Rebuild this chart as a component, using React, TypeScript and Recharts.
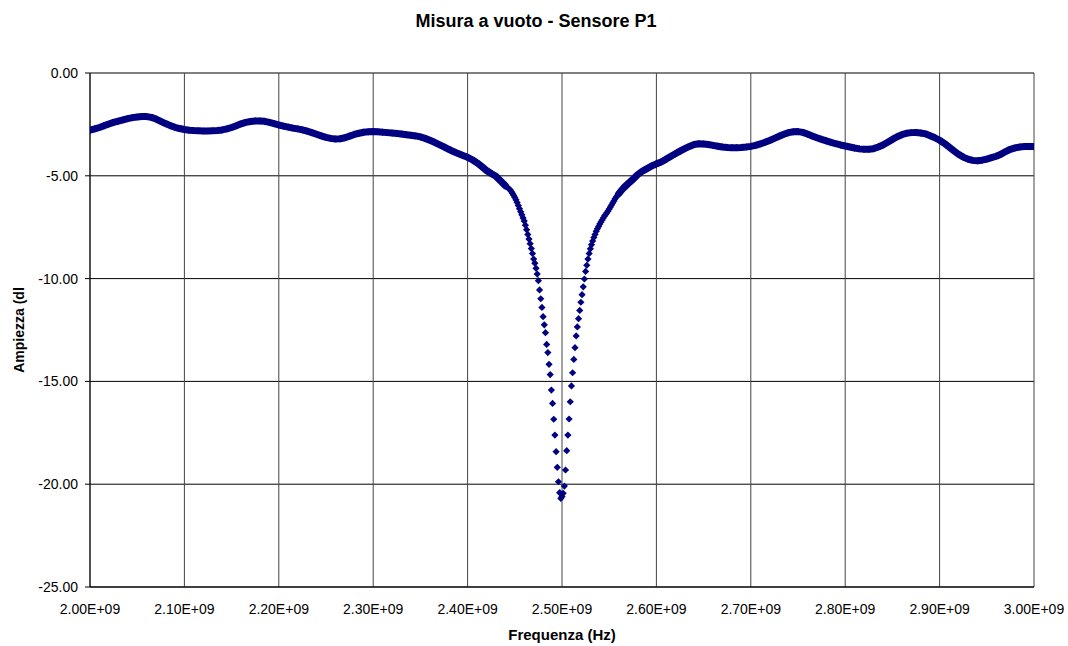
import React from 'react';
import { ScatterChart, Scatter, XAxis, YAxis, CartesianGrid } from 'recharts';

const NAVY = '#000080';
const FONT = '"Liberation Sans", Arial, sans-serif';

// Frequency sweep definitions (Hz)
const LEFT_START = 2.0e9;
const DIP_START = 2.44e9;
const RIGHT_START = 2.56e9;
const FLAT_STEP = 5e6;
const DIP_STEP = 1.25e6;

// Amplitude (dB) 2.000 - 2.440 GHz, 5 MHz step
const leftAmp = [
  -2.78, -2.72, -2.65, -2.56, -2.48, -2.40, -2.34, -2.28, -2.22, -2.17,
  -2.14, -2.12, -2.12, -2.16, -2.24, -2.35, -2.46, -2.56, -2.64, -2.70,
  -2.75, -2.78, -2.80, -2.81, -2.82, -2.82, -2.81, -2.80, -2.77, -2.72,
  -2.65, -2.56, -2.47, -2.40, -2.36, -2.33, -2.33, -2.35, -2.40, -2.46,
  -2.53, -2.58, -2.63, -2.68, -2.72, -2.77, -2.83, -2.90, -2.98, -3.06,
  -3.13, -3.18, -3.21, -3.20, -3.15, -3.07, -2.99, -2.93, -2.88, -2.86,
  -2.85, -2.86, -2.88, -2.90, -2.92, -2.94, -2.97, -3.00, -3.03, -3.06,
  -3.11, -3.18, -3.27, -3.37, -3.48, -3.59, -3.71, -3.82, -3.92, -4.01,
  -4.10, -4.22, -4.37, -4.55, -4.74, -4.89, -5.02, -5.25, -5.48,
];

// Amplitude (dB) 2.440 - 2.560 GHz, 1.25 MHz step
const dipAmp = [
  -5.48, -5.53, -5.58, -5.63, -5.68, -5.76, -5.85, -5.95, -6.05, -6.17,
  -6.30, -6.45, -6.60, -6.75, -6.90, -7.05, -7.20, -7.40, -7.62, -7.85,
  -8.08, -8.30, -8.54, -8.78, -9.05, -9.25, -9.50, -9.78, -10.10, -10.55,
  -10.98, -11.40, -11.85, -12.25, -12.63, -13.20, -13.60, -14.17, -14.67, -15.42,
  -16.07, -16.84, -17.61, -18.42, -19.18, -19.88, -20.41, -20.69, -20.60, -20.44,
  -20.09, -19.31, -18.37, -17.61, -16.83, -15.99, -15.22, -14.58, -13.93, -13.36,
  -12.79, -12.35, -11.95, -11.55, -11.15, -10.78, -10.40, -10.02, -9.65, -9.35,
  -9.05, -8.78, -8.55, -8.35, -8.17, -8.00, -7.85, -7.70, -7.58, -7.46,
  -7.35, -7.25, -7.15, -7.05, -6.96, -6.88, -6.80, -6.71, -6.62, -6.52,
  -6.42, -6.32, -6.22, -6.12, -6.03, -5.95, -5.88,
];

// Amplitude (dB) 2.560 - 3.000 GHz, 5 MHz step
const rightAmp = [
  -5.88, -5.60, -5.38, -5.18, -4.95, -4.78, -4.65, -4.52, -4.42, -4.33,
  -4.20, -4.06, -3.93, -3.80, -3.68, -3.57, -3.48, -3.44, -3.45, -3.48,
  -3.52, -3.56, -3.60, -3.62, -3.63, -3.63, -3.62, -3.60, -3.57, -3.52,
  -3.45, -3.37, -3.28, -3.18, -3.08, -2.98, -2.90, -2.86, -2.85, -2.89,
  -2.97, -3.06, -3.15, -3.23, -3.30, -3.37, -3.44, -3.50, -3.55, -3.60,
  -3.65, -3.69, -3.71, -3.71, -3.68, -3.60, -3.50, -3.37, -3.23, -3.10,
  -3.00, -2.93, -2.90, -2.89, -2.92, -2.96, -3.05, -3.15, -3.27, -3.42,
  -3.60, -3.78, -3.95, -4.09, -4.19, -4.25, -4.27, -4.24, -4.19, -4.12,
  -4.05, -3.95, -3.82, -3.71, -3.64, -3.60, -3.58, -3.58, -3.58,
];

const xTicks = [2.0e9, 2.1e9, 2.2e9, 2.3e9, 2.4e9, 2.5e9, 2.6e9, 2.7e9, 2.8e9, 2.9e9, 3.0e9];
const xTickLabels = [
  '2.00E+09', '2.10E+09', '2.20E+09', '2.30E+09', '2.40E+09', '2.50E+09',
  '2.60E+09', '2.70E+09', '2.80E+09', '2.90E+09', '3.00E+09',
];
const yTicks = [-25, -20, -15, -10, -5, 0];
const yTickLabels = ['-25.00', '-20.00', '-15.00', '-10.00', '-5.00', '0.00'];

const TITLE = 'Misura a vuoto - Sensore P1';
const X_TITLE = 'Frequenza (Hz)';
const Y_TITLE = 'Ampiezza (dl';

const build = (start: number, step: number, amps: number[]) =>
  amps.map((a, i) => ({ f: start + i * step, a }));

const leftData = build(LEFT_START, FLAT_STEP, leftAmp);
const dipData = build(DIP_START, DIP_STEP, dipAmp);
const rightData = build(RIGHT_START, FLAT_STEP, rightAmp);

const Diamond = (props: any) => {
  const { cx, cy } = props;
  if (cx == null || cy == null) return null;
  const r = 3.6;
  return (
    <path
      d={`M${cx},${cy - r}L${cx + r},${cy}L${cx},${cy + r}L${cx - r},${cy}Z`}
      fill={NAVY}
    />
  );
};

const tickStyle = { fontFamily: FONT, fontSize: 14, fill: '#000' };
const lineStyle = { stroke: NAVY, strokeWidth: 7, strokeLinejoin: 'round', strokeLinecap: 'round' } as any;

export default function App() {
  return (
    <div style={{ padding: '8px 0 0 8px', width: 1060, height: 638, background: '#fff' }}>
      <style>{'html{overflow:hidden} body{margin:0} .recharts-wrapper, .recharts-surface{overflow:visible !important}'}</style>
      <div style={{ position: 'relative', width: 1060, height: 638, background: '#fff', fontFamily: FONT }}>
        <div
          style={{
            position: 'absolute', left: -2, top: 3.5, width: 1060, textAlign: 'center',
            fontSize: 18, lineHeight: '18px', fontWeight: 'bold', color: '#000', whiteSpace: 'nowrap',
          }}
        >
          {TITLE}
        </div>
        <div
          style={{
            position: 'absolute', left: 0, top: 618.5, width: 1108, textAlign: 'center',
            fontSize: 15, lineHeight: '15px', fontWeight: 'bold', color: '#000', whiteSpace: 'nowrap',
          }}
        >
          {X_TITLE}
        </div>
        <div
          style={{
            position: 'absolute', left: 11 - 100, top: 322 - 7, width: 200, textAlign: 'center',
            fontSize: 14, lineHeight: '14px', fontWeight: 'bold', color: '#000', whiteSpace: 'nowrap',
            transform: 'rotate(-90deg)',
          }}
        >
          {Y_TITLE}
        </div>
        <ScatterChart
          width={1060}
          height={638}
          margin={{ top: 65, right: 34, bottom: 29, left: 22 }}
          style={{ position: 'absolute', left: 0, top: 0, overflow: 'visible' }}
        >
          <CartesianGrid horizontal={true} vertical={false} stroke="#000" strokeOpacity={1} />
          <CartesianGrid horizontal={false} vertical={true} stroke="#444" strokeOpacity={1} />
          <XAxis
            type="number"
            dataKey="f"
            domain={[2.0e9, 3.0e9]}
            ticks={xTicks}
            tickFormatter={(v: number) => xTickLabels[xTicks.indexOf(v)] ?? ''}
            tick={tickStyle}
            tickLine={false}
            tickSize={5}
            tickMargin={12}
            axisLine={{ stroke: '#000' }}
            height={30}
            interval={0}
            allowDataOverflow
          />
          <YAxis
            type="number"
            dataKey="a"
            domain={[-25, 0]}
            ticks={yTicks}
            tickFormatter={(v: number) => yTickLabels[yTicks.indexOf(v)] ?? ''}
            tick={tickStyle}
            tickLine={{ stroke: '#000' }}
            tickSize={5}
            tickMargin={7}
            axisLine={{ stroke: '#000' }}
            width={60}
            interval={0}
            allowDataOverflow
          />
          <Scatter data={leftData} fill={NAVY} shape={Diamond} line={lineStyle} lineType="joint" isAnimationActive={false} />
          <Scatter data={rightData} fill={NAVY} shape={Diamond} line={lineStyle} lineType="joint" isAnimationActive={false} />
          <Scatter data={dipData} fill={NAVY} shape={Diamond} isAnimationActive={false} />
        </ScatterChart>
      </div>
    </div>
  );
}
